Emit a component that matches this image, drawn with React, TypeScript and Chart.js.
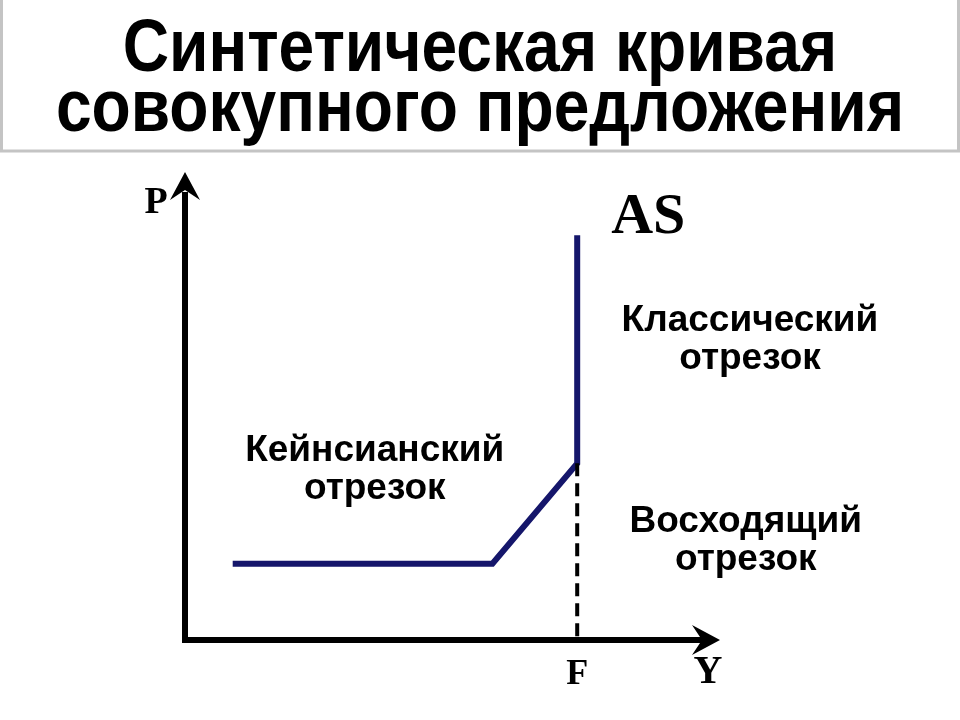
import React, { useEffect, useRef } from "react";
import { Chart, registerables } from "chart.js";

Chart.register(...registerables);

// ---- data ----
const titleLines = ["Синтетическая кривая", "совокупного предложения"];
const asCurveX = [9, 58, 74, 74];
const asCurveY = [16.6, 16.6, 38.4, 88];
const fLevel = 74;
const fDashY = [38.4, 0];
const axisLabels = { p: "P", y: "Y", f: "F", as: "AS" };
const segmentLabels = [
  { lines: ["Кейнсианский", "отрезок"], x: 35.8, y: 37.1 },
  { lines: ["Классический", "отрезок"], x: 106.6, y: 65.3 },
  { lines: ["Восходящий", "отрезок"], x: 105.8, y: 21.6 },
];

const NAVY = "#15166b";

const drawPlugin = {
  id: "econDiagram",
  beforeDatasetsDraw(chart: any) {
    const { ctx } = chart;
    const xs = chart.scales.x;
    const ys = chart.scales.y;
    const x0 = xs.getPixelForValue(0);
    const y0 = ys.getPixelForValue(0);
    const xEnd = xs.getPixelForValue(100);
    const yEnd = ys.getPixelForValue(100);
    ctx.save();
    // title box
    ctx.strokeStyle = "#c4c4c4";
    ctx.lineWidth = 3;
    ctx.strokeRect(1.5, -2, 957, 153);
    ctx.fillStyle = "#000";
    ctx.textAlign = "center";
    ctx.textBaseline = "alphabetic";
    ctx.font = "bold 75px 'Liberation Sans Narrow', 'Arial Narrow', 'Liberation Sans', Arial, sans-serif";
    titleLines.forEach((t, i) => {
      ctx.save();
      ctx.translate(480, 71 + i * 60);
      ctx.scale(0.855, 1);
      ctx.fillText(t, 0, 0);
      ctx.restore();
    });

    // axes
    ctx.strokeStyle = "#000";
    ctx.lineWidth = 6;
    ctx.lineCap = "butt";
    ctx.beginPath();
    ctx.moveTo(x0, yEnd + 12);
    ctx.lineTo(x0, y0);
    ctx.lineTo(xEnd - 12, y0);
    ctx.stroke();
    // arrow heads (stealth)
    ctx.fillStyle = "#000";
    ctx.beginPath();
    ctx.moveTo(x0, yEnd - 8);
    ctx.lineTo(x0 + 15, yEnd + 20);
    ctx.lineTo(x0, yEnd + 10);
    ctx.lineTo(x0 - 15, yEnd + 20);
    ctx.closePath();
    ctx.fill();
    ctx.beginPath();
    ctx.moveTo(xEnd + 5, y0);
    ctx.lineTo(xEnd - 23, y0 - 15);
    ctx.lineTo(xEnd - 13, y0);
    ctx.lineTo(xEnd - 23, y0 + 15);
    ctx.closePath();
    ctx.fill();

    // axis letters
    ctx.font = "bold 38px 'Liberation Serif', 'Times New Roman', serif";
    ctx.textAlign = "center";
    ctx.fillText(axisLabels.p, x0 - 29, yEnd + 33);
    ctx.font = "bold 40px 'Liberation Serif', 'Times New Roman', serif";
    ctx.fillText(axisLabels.y, xEnd - 7, y0 + 43);
    ctx.font = "bold 36px 'Liberation Serif', 'Times New Roman', serif";
    ctx.fillText(axisLabels.f, xs.getPixelForValue(fLevel), y0 + 44);
    ctx.font = "bold 58px 'Liberation Serif', 'Times New Roman', serif";
    ctx.fillText(axisLabels.as, xs.getPixelForValue(fLevel) + 71, ys.getPixelForValue(88) - 2);

    // segment labels
    ctx.font = "bold 37px 'Liberation Sans', Arial, sans-serif";
    ctx.textBaseline = "middle";
    segmentLabels.forEach((s) => {
      const cx = xs.getPixelForValue(s.x);
      const cy = ys.getPixelForValue(s.y);
      s.lines.forEach((l, i) => ctx.fillText(l, cx, cy + (i - (s.lines.length - 1) / 2) * 38));
    });
    ctx.restore();
  },
};

export default function App() {
  const ref = useRef<HTMLCanvasElement | null>(null);
  useEffect(() => {
    document.body.style.margin = "0";
    const canvas = ref.current!;
    const chart = new Chart(canvas, {
      type: "scatter",
      data: {
        datasets: [
          {
            label: "F",
            data: fDashY.map((y) => ({ x: fLevel, y })),
            showLine: true,
            borderColor: "#000",
            borderWidth: 4,
            borderDash: [13, 7],
            pointRadius: 0,
            clip: false as any,
          },
          {
            label: "AS",
            data: asCurveX.map((x, i) => ({ x, y: asCurveY[i] })),
            showLine: true,
            borderColor: NAVY,
            borderWidth: 6,
            borderJoinStyle: "miter" as any,
            pointRadius: 0,
            clip: false as any,
          },
        ],
      },
      options: {
        animation: false,
        responsive: false,
        events: [],
        layout: { padding: { left: 185, right: 245, top: 180, bottom: 80 } },
        plugins: { legend: { display: false }, tooltip: { enabled: false }, title: { display: false } },
        scales: {
          x: { type: "linear", min: 0, max: 100, display: false },
          y: { type: "linear", min: 0, max: 100, display: false },
        },
      },
      plugins: [drawPlugin],
    });
    return () => chart.destroy();
  }, []);
  return (
    <div style={{ position: "absolute", left: 0, top: 0, width: 960, height: 720, background: "#fff" }}>
      <canvas ref={ref} width={960} height={720} style={{ width: 960, height: 720 }} />
    </div>
  );
}
